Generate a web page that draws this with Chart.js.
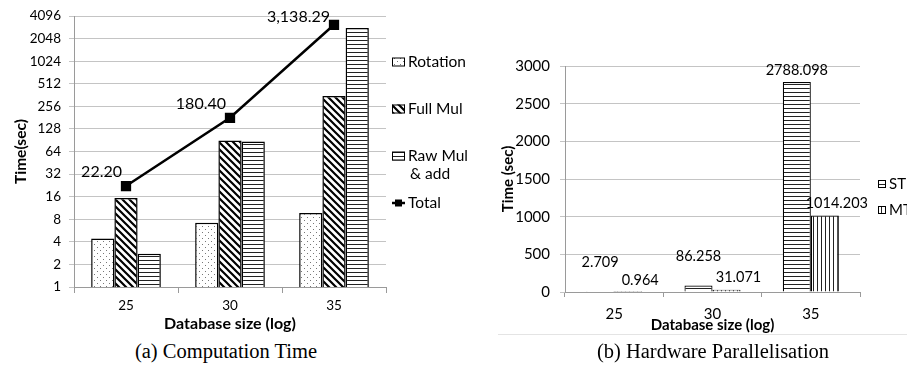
<!DOCTYPE html>
<html>
<head>
<meta charset="utf-8">
<script src="https://cdn.jsdelivr.net/npm/chart.js@4"></script>
<style>
  body { margin: 0; background: #fff; width: 907px; height: 374px; overflow: hidden; position: relative; }
  canvas { position: absolute; top: 0; }
  #chartA { left: 0; }
  #chartB { left: 453px; }
  .caption { position: absolute; top: 340px; font-family: "Liberation Serif", serif; font-size: 20.5px; color: #000; transform: translateX(-50%); white-space: nowrap; }
  .edge { position: absolute; left: 498px; top: 334px; width: 409px; height: 1px; background: #e4e4e4; }
</style>
</head>
<body>
<canvas id="chartA" width="480" height="335"></canvas>
<canvas id="chartB" width="454" height="335"></canvas>
<div class="edge"></div>
<div class="caption" style="left:226px">(a) Computation Time</div>
<div class="caption" style="left:713px">(b) Hardware Parallelisation</div>
<script>
// (a) computation time, log2 axis
const categoriesA = ['25', '30', '35'];
const seriesA = ['Rotation', 'Full Mul', 'Raw Mul & add', 'Total'];
const rotation = [4.45, 7.2, 9.7];
const fullMul = [15.4, 90, 352];
const rawMulAdd = [2.77, 87, 2840];
const total = [22.20, 180.40, 3138.29];
const yTicksA = [1, 2, 4, 8, 16, 32, 64, 128, 256, 512, 1024, 2048, 4096];

// (b) hardware parallelisation
const categoriesB = ['25', '30', '35'];
const seriesB = ['ST', 'MT'];
const st = [2.709, 86.258, 2788.098];
const mt = [0.964, 31.071, 1014.203];
const yTicksB = [0, 500, 1000, 1500, 2000, 2500, 3000];

const FONT = 'Lato';
const GRID = '#c4c4c4';
const AXIS = '#9a9a9a';

function makePattern(kind) {
    const c = document.createElement('canvas');
    const g = c.getContext('2d');
    if (kind === 'dots') {
        c.width = 6; c.height = 6;
        g.fillStyle = '#fff'; g.fillRect(0, 0, 6, 6);
        g.fillStyle = '#777';
        g.fillRect(1, 1, 1, 1);
        g.fillRect(4, 4, 1, 1);
    } else if (kind === 'diag') {
        c.width = 7; c.height = 7;
        g.fillStyle = '#fff'; g.fillRect(0, 0, 7, 7);
        g.strokeStyle = '#000'; g.lineWidth = 2.2;
        g.beginPath();
        g.moveTo(-2, -2); g.lineTo(9, 9);
        g.moveTo(-9, -2); g.lineTo(2, 9);
        g.moveTo(5, -2); g.lineTo(16, 9);
        g.stroke();
    } else if (kind === 'hlines') {
        c.width = 4; c.height = 4;
        g.fillStyle = '#fff'; g.fillRect(0, 0, 4, 4);
        g.fillStyle = '#222'; g.fillRect(0, 0, 4, 1);
    } else if (kind === 'vlines') {
        c.width = 4; c.height = 4;
        g.fillStyle = '#fff'; g.fillRect(0, 0, 4, 4);
        g.fillStyle = '#222'; g.fillRect(0, 0, 1, 4);
    }
    return g.createPattern(c, 'repeat');
}

function wrapText(ctx, text, maxWidth) {
    const words = text.split(' ');
    const lines = [];
    let line = '';
    words.forEach(w => {
        const test = line ? line + ' ' + w : w;
        if (ctx.measureText(test).width > maxWidth && line) {
            lines.push(line);
            line = w;
        } else {
            line = test;
        }
    });
    lines.push(line);
    return lines;
}

// legend drawn beside the plot, one item per dataset
function sideLegend(opts) {
    return {
        id: 'sideLegend',
        afterDraw(chart) {
            const ctx = chart.ctx;
            const area = chart.chartArea;
            ctx.save();
            ctx.font = opts.fontSize + 'px ' + FONT;
            ctx.textBaseline = 'middle';
            chart.data.datasets.forEach((ds, i) => {
                const x = area.right + opts.dx;
                const y = opts.top + i * opts.step;
                const bw = opts.boxW, bh = opts.boxH;
                if (ds.type === 'line') {
                    ctx.strokeStyle = '#000';
                    ctx.lineWidth = 2.5;
                    ctx.beginPath();
                    ctx.moveTo(x, y); ctx.lineTo(x + bw, y);
                    ctx.stroke();
                    ctx.fillStyle = '#000';
                    ctx.fillRect(x + bw / 2 - 3.5, y - 3.5, 7, 7);
                } else {
                    ctx.fillStyle = ds.backgroundColor;
                    ctx.fillRect(x, y - bh / 2, bw, bh);
                    ctx.strokeStyle = '#000';
                    ctx.lineWidth = 1;
                    ctx.strokeRect(x + 0.5, y - bh / 2 + 0.5, bw - 1, bh - 1);
                }
                ctx.fillStyle = '#000';
                const lines = wrapText(ctx, ds.label, opts.maxWidth);
                lines.forEach((ln, k) => {
                    ctx.fillText(ln, x + bw + opts.gap + (k > 0 ? 2 : 0), y + k * opts.lineStep);
                });
            });
            ctx.restore();
        }
    };
}

const totalLabels = {
    id: 'totalLabels',
    afterDatasetsDraw(chart) {
        const ctx = chart.ctx;
        const idx = chart.data.datasets.findIndex(d => d.type === 'line');
        const meta = chart.getDatasetMeta(idx);
        ctx.save();
        ctx.font = '16px ' + FONT;
        ctx.fillStyle = '#000';
        ctx.textAlign = 'right';
        ctx.textBaseline = 'middle';
        meta.data.forEach((pt, i) => {
            const v = chart.data.datasets[idx].data[i];
            const txt = v.toLocaleString('en-US', { minimumFractionDigits: 2, maximumFractionDigits: 2 });
            ctx.fillText(txt, pt.x - 4, Math.max(pt.y - 14, 17));
        });
        ctx.restore();
    }
};

const barLabels = {
    id: 'barLabels',
    afterDatasetsDraw(chart) {
        const ctx = chart.ctx;
        ctx.save();
        ctx.font = '14.5px ' + FONT;
        ctx.fillStyle = '#000';
        ctx.textAlign = 'center';
        ctx.textBaseline = 'middle';
        chart.data.datasets.forEach((ds, di) => {
            chart.getDatasetMeta(di).data.forEach((bar, i) => {
                const v = ds.data[i];
                const dx = di === 1 ? 12 : 0;
                const lift = di === 0 && v < 500 ? 17 : 0;
                ctx.fillText(v.toFixed(3), bar.x + dx, bar.y - 12 - lift);
            });
        });
        ctx.restore();
    }
};

new Chart(document.getElementById('chartA'), {
    type: 'bar',
    data: {
        labels: categoriesA,
        datasets: [
            { label: seriesA[0], data: rotation, backgroundColor: makePattern('dots'), borderColor: '#000', borderWidth: 1.5, order: 1 },
            { label: seriesA[1], data: fullMul, backgroundColor: makePattern('diag'), borderColor: '#000', borderWidth: 1.5, order: 1 },
            { label: seriesA[2], data: rawMulAdd, backgroundColor: makePattern('hlines'), borderColor: '#000', borderWidth: 1.5, order: 1 },
            { type: 'line', label: seriesA[3], data: total, borderColor: '#000', backgroundColor: '#000', borderWidth: 2.5,
              pointStyle: 'rect', pointRadius: 5.5, tension: 0, order: 0 }
        ]
    },
    options: {
        responsive: false,
        animation: false,
        categoryPercentage: 0.67,
        barPercentage: 1,
        layout: { padding: { top: 12, right: 94, left: 0, bottom: 0 } },
        plugins: { legend: { display: false }, tooltip: { enabled: false } },
        scales: {
            x: {
                grid: { drawOnChartArea: false, drawTicks: true, tickLength: 6, color: AXIS },
                border: { color: AXIS },
                ticks: { color: '#000', padding: 5, font: { family: FONT, size: 13.5 } },
                title: { display: true, text: 'Database size (log)', color: '#000', padding: { top: 0, bottom: 2 },
                         font: { family: FONT, size: 16, weight: 'bold' } },
                afterFit(s) { s.height = 48; }
            },
            y: {
                type: 'logarithmic',
                min: 1,
                max: 4096,
                afterBuildTicks(s) { s.ticks = yTicksA.map(v => ({ value: v })); },
                grid: { color: GRID, tickLength: 5 },
                border: { color: AXIS },
                ticks: { color: '#000', padding: 8, font: { family: FONT, size: 13.5 }, callback: v => String(v) },
                title: { display: true, text: 'Time(sec)', color: '#000', padding: { top: 12, bottom: 0 },
                         font: { family: FONT, size: 15.5, weight: 'bold' } },
                afterFit(s) { s.width = 74; }
            }
        }
    },
    plugins: [totalLabels, sideLegend({ dx: 6, top: 62, step: 47, boxW: 13, boxH: 9, gap: 3, fontSize: 15.5, maxWidth: 66, lineStep: 18 })]
});

new Chart(document.getElementById('chartB'), {
    type: 'bar',
    data: {
        labels: categoriesB,
        datasets: [
            { label: seriesB[0], data: st, backgroundColor: makePattern('hlines'), borderColor: '#000', borderWidth: 1.2 },
            { label: seriesB[1], data: mt, backgroundColor: makePattern('vlines'), borderColor: '#000', borderWidth: 1.2 }
        ]
    },
    options: {
        responsive: false,
        animation: false,
        categoryPercentage: 0.57,
        barPercentage: 1,
        layout: { padding: { top: 66, right: 47, left: 0, bottom: 0 } },
        plugins: { legend: { display: false }, tooltip: { enabled: false } },
        scales: {
            x: {
                grid: { drawOnChartArea: false, drawTicks: true, tickLength: 5, color: AXIS },
                border: { color: AXIS },
                ticks: { color: '#000', padding: 8, font: { family: FONT, size: 15 } },
                title: { display: true, text: 'Database size (log)', color: '#000', padding: { top: 0, bottom: 1 },
                         font: { family: FONT, size: 15, weight: 'bold' } },
                afterFit(s) { s.height = 43; }
            },
            y: {
                min: 0,
                max: 3000,
                afterBuildTicks(s) { s.ticks = yTicksB.map(v => ({ value: v })); },
                grid: { color: GRID, tickLength: 5 },
                border: { color: AXIS },
                ticks: { color: '#000', padding: 10, font: { family: FONT, size: 15 }, callback: v => String(v) },
                title: { display: true, text: 'Time (sec)', color: '#000', padding: { top: 46, bottom: 0 },
                         font: { family: FONT, size: 15, weight: 'bold' } },
                afterFit(s) { s.width = 112; }
            }
        }
    },
    plugins: [barLabels, sideLegend({ dx: 18, top: 184, step: 26, boxW: 8, boxH: 8, gap: 3, fontSize: 15, maxWidth: 80, lineStep: 18 })]
});
</script>
</body>
</html>
